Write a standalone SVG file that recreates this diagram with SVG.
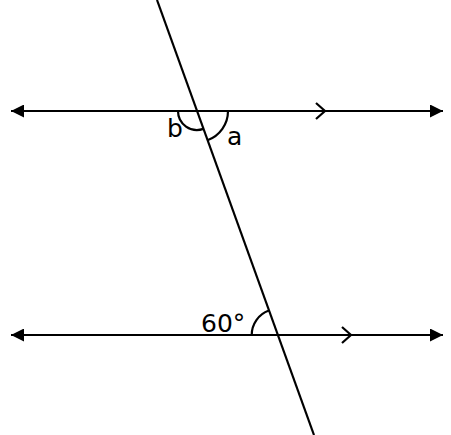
<svg xmlns="http://www.w3.org/2000/svg" width="451" height="435" viewBox="0 0 451 435">
<style>
.ln{stroke:#000;stroke-width:2.2;fill:none}
.lbl{font-family:"DejaVu Sans",sans-serif;font-size:25px;fill:#000}
</style>
<defs>
<marker id="ah" viewBox="0 0 13 13" refX="13" refY="6.5" markerWidth="13" markerHeight="13" markerUnits="userSpaceOnUse" orient="auto-start-reverse">
<path d="M0,0 L13,6.5 L0,13 Z" fill="#000"/>
</marker>
</defs>
<rect width="451" height="435" fill="#fff"/>
<g id="connectors">
<line class="ln" x1="11" y1="111" x2="443" y2="111" marker-start="url(#ah)" marker-end="url(#ah)"/>
<line class="ln" x1="11" y1="335" x2="443" y2="335" marker-start="url(#ah)" marker-end="url(#ah)"/>
<line class="ln" x1="157" y1="0" x2="314" y2="435"/>
<path class="ln" d="M316,103 L325,111 L316,119"/>
<path class="ln" d="M342,327 L351,335 L342,343"/>
</g>
<g id="angle-a">
<path class="ln" d="M228,111 A31,31 0 0 1 207.5,140.2"/>
<text class="lbl" x="227" y="145">a</text>
</g>
<g id="angle-b">
<path class="ln" d="M178,111 A19,19 0 0 0 203.4,128.9"/>
<text class="lbl" x="167" y="137">b</text>
</g>
<g id="angle-60">
<path class="ln" d="M251.7,335 A26,26 0 0 1 268.9,310.5"/>
<text class="lbl" x="201" y="332">60°</text>
</g>
</svg>
